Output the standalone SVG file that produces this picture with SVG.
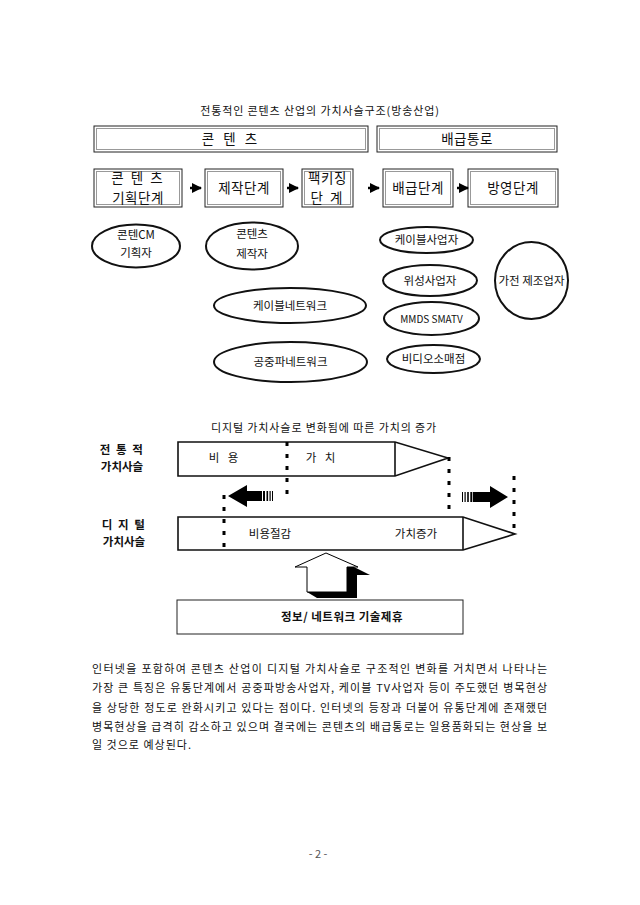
<svg xmlns="http://www.w3.org/2000/svg" width="640" height="905" viewBox="0 0 640 905">
<defs>
<style>
text{font-family:"Noto Sans CJK KR","Noto Sans",sans-serif;fill:#111;}
.t{font-size:11px;letter-spacing:0.9px;}
.bx{font-size:13.5px;text-anchor:middle;letter-spacing:0.5px;}
.el{font-size:11.5px;text-anchor:middle;}
.lb{font-size:11.5px;font-weight:bold;text-anchor:middle;}
.p{font-size:11px;}
.box{fill:#fff;stroke:#222;stroke-width:1;}
.inner{fill:none;stroke:#999;stroke-width:1;}
.ell{fill:#fff;stroke:#111;stroke-width:2;}
.bar{fill:#fff;stroke:#111;stroke-width:1.6;}
.dots{stroke:#000;stroke-width:3;stroke-dasharray:4 8;fill:none;}
</style>
<marker id="ah" viewBox="0 0 10 10" refX="9" refY="5" markerWidth="4" markerHeight="4" orient="auto"><path d="M0,0 L10,5 L0,10 z" fill="#000"/></marker>
</defs>
<rect width="640" height="905" fill="#fff"/>

<text class="t" x="320" y="115" text-anchor="middle">전통적인 콘텐츠 산업의 가치사슬구조(방송산업)</text>

<g id="hdr-contents"><rect class="box" x="94" y="126" width="274" height="26"/><rect class="inner" x="96.5" y="128.5" width="269" height="21"/><text class="bx" x="231" y="144" style="letter-spacing:3px">콘 텐 츠</text></g>
<g id="hdr-dist"><rect class="box" x="377" y="126" width="180" height="26"/><rect class="inner" x="379.5" y="128.5" width="175" height="21"/><text class="bx" x="467" y="144">배급통로</text></g>

<g id="s1"><rect class="box" x="94" y="169" width="88" height="38"/><rect class="inner" x="96.5" y="171.5" width="83" height="33"/><text class="bx" x="138" y="183" style="letter-spacing:2px">콘 텐 츠</text><text class="bx" x="138" y="203">기획단계</text></g>
<g id="s2"><rect class="box" x="205" y="169" width="78" height="38"/><rect class="inner" x="207.5" y="171.5" width="73" height="33"/><text class="bx" x="244" y="193">제작단계</text></g>
<g id="s3"><rect class="box" x="302" y="169" width="51" height="38"/><rect class="inner" x="304.5" y="171.5" width="46" height="33"/><text class="bx" x="327.5" y="183">팩키징</text><text class="bx" x="327.5" y="203" style="letter-spacing:2px">단  계</text></g>
<g id="s4"><rect class="box" x="383" y="169" width="70" height="38"/><rect class="inner" x="385.5" y="171.5" width="65" height="33"/><text class="bx" x="418" y="193">배급단계</text></g>
<g id="s5"><rect class="box" x="468" y="169" width="90" height="38"/><rect class="inner" x="470.5" y="171.5" width="85" height="33"/><text class="bx" x="513" y="193">방영단계</text></g>

<g id="connectors">
<line x1="190" y1="188" x2="201" y2="188" stroke="#000" stroke-width="2.5" marker-end="url(#ah)"/>
<line x1="287" y1="188" x2="298" y2="188" stroke="#000" stroke-width="2.5" marker-end="url(#ah)"/>
<line x1="368" y1="188" x2="379" y2="188" stroke="#000" stroke-width="2.5" marker-end="url(#ah)"/>
<line x1="457" y1="188" x2="468" y2="188" stroke="#000" stroke-width="2.5" marker-end="url(#ah)"/>
</g>

<g id="e1"><ellipse class="ell" cx="136" cy="246" rx="44" ry="21.5"/><text class="el" x="136" y="239">콘텐CM</text><text class="el" x="136" y="257">기획자</text></g>
<g id="e2"><ellipse class="ell" cx="252" cy="246" rx="46" ry="23.5"/><text class="el" x="252" y="238">콘텐츠</text><text class="el" x="252" y="258">제작자</text></g>
<g id="e3"><ellipse class="ell" cx="426.5" cy="240" rx="46.5" ry="13"/><text class="el" x="426.5" y="244">케이블사업자</text></g>
<g id="e4"><ellipse class="ell" cx="430" cy="280.5" rx="47" ry="15.5"/><text class="el" x="430" y="284.5">위성사업자</text></g>
<g id="e5"><ellipse class="ell" cx="431.5" cy="318.5" rx="47.5" ry="16.5"/><text class="el" x="431.5" y="322.5" style="font-size:10px">MMDS SMATV</text></g>
<g id="e6"><ellipse class="ell" cx="433.5" cy="359" rx="46.5" ry="14"/><text class="el" x="433.5" y="363">비디오소매점</text></g>
<g id="e7"><ellipse class="ell" cx="531.5" cy="280.5" rx="36.5" ry="38.5"/><text class="el" x="531.5" y="284.5">가전 제조업자</text></g>
<g id="e8"><ellipse class="ell" cx="290" cy="305.5" rx="76" ry="17.5"/><text class="el" x="290" y="309.5">케이블네트워크</text></g>
<g id="e9"><ellipse class="ell" cx="290.5" cy="362" rx="76.5" ry="20"/><text class="el" x="290.5" y="366">공중파네트워크</text></g>

<text class="t" x="324" y="432" text-anchor="middle">디지털 가치사슬로 변화됨에 따른 가치의 증가</text>

<g id="lbl-trad"><text class="lb" x="122" y="454" style="letter-spacing:1.5px">전 통 적</text><text class="lb" x="122" y="471">가치사슬</text></g>
<g id="lbl-dig"><text class="lb" x="124" y="529" style="letter-spacing:1.5px">디 지 털</text><text class="lb" x="124" y="546">가치사슬</text></g>

<g id="bar-trad"><path class="bar" d="M178,442 L395,442 L448,458 L395,476 L178,476 Z"/><line x1="395" y1="442" x2="395" y2="476" stroke="#111" stroke-width="1.6"/><text class="el" x="225" y="462" style="letter-spacing:3px">비  용</text><text class="el" x="322" y="462" style="letter-spacing:3px">가  치</text></g>
<g id="bar-dig"><path class="bar" d="M178,517 L463,517 L515,534 L463,550 L178,550 Z"/><line x1="463" y1="517" x2="463" y2="550" stroke="#111" stroke-width="1.6"/><text class="el" x="270" y="538">비용절감</text><text class="el" x="416" y="538">가치증가</text></g>

<g id="dotted">
<line class="dots" x1="287" y1="442" x2="287" y2="498"/>
<line class="dots" x1="224" y1="495" x2="224" y2="550"/>
<line class="dots" x1="449" y1="457" x2="449" y2="512"/>
<line class="dots" x1="514" y1="476" x2="514" y2="534"/>
</g>

<g id="arrow-left">
<path d="M228,496 L247,485 L247,491 L262,491 L262,501 L247,501 L247,507 Z" fill="#000"/>
<rect x="263" y="491" width="2" height="10" fill="#000"/><rect x="266.5" y="491" width="1.6" height="10" fill="#000"/><rect x="269.5" y="491" width="1.2" height="10" fill="#000"/><rect x="272" y="491" width="1" height="10" fill="#000"/>
</g>
<g id="arrow-right">
<rect x="462" y="492" width="1" height="10" fill="#000"/><rect x="464.5" y="492" width="1.2" height="10" fill="#000"/><rect x="467.2" y="492" width="1.6" height="10" fill="#000"/><rect x="470.3" y="492" width="2" height="10" fill="#000"/>
<path d="M473,492 L490,492 L490,486 L508,497 L490,508 L490,502 L473,502 Z" fill="#000"/>
</g>

<g id="arrow-up">
<path d="M326,553 L370,575 L357,575 L357,598 L317,598 L307,592 L347,567 Z" fill="#000"/>
<path d="M326,553 L295,567 L307,567 L307,592 L347,592 L347,567 L358,567 Z" fill="#fff" stroke="#000" stroke-width="1"/>
</g>

<g id="bottom-box"><rect class="box" x="177" y="600" width="286" height="34" stroke-width="1.5"/><text class="lb" x="342" y="621" style="font-weight:bold;letter-spacing:0.5px">정보/ 네트워크 기술제휴</text></g>

<g id="paragraph">
<text class="p" x="92" y="673" textLength="455" lengthAdjust="spacing">인터넷을 포함하여 콘텐츠 산업이 디지털 가치사슬로 구조적인 변화를 거치면서 나타나는</text>
<text class="p" x="92" y="692" textLength="455" lengthAdjust="spacing">가장 큰 특징은 유통단계에서 공중파방송사업자, 케이블 TV사업자 등이 주도했던 병목현상</text>
<text class="p" x="92" y="712" textLength="455" lengthAdjust="spacing">을 상당한 정도로 완화시키고 있다는 점이다. 인터넷의 등장과 더불어 유통단계에 존재했던</text>
<text class="p" x="92" y="731" textLength="455" lengthAdjust="spacing">병목현상을 급격히 감소하고 있으며 결국에는 콘텐츠의 배급통로는 일용품화되는 현상을 보</text>
<text class="p" x="92" y="749" style="letter-spacing:1px">일 것으로 예상된다.</text>
</g>

<text x="318" y="858" text-anchor="middle" style="font-size:11px;fill:#555">- 2 -</text>
</svg>
